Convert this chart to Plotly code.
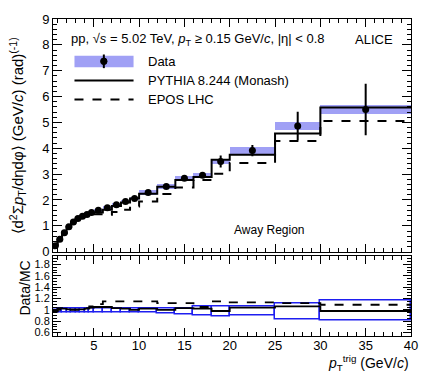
import plotly.graph_objects as go

# ---------------- data ----------------
bin_edges = [0.5, 1, 1.5, 2, 2.5, 3, 3.5, 4, 4.5, 5, 6, 7, 8, 9, 10, 12, 14, 16, 18, 20, 25, 30, 40]
data_vals = [0.23, 0.48, 0.73, 0.96, 1.15, 1.28, 1.37, 1.44, 1.52, 1.60, 1.70, 1.82, 1.94, 2.06,
             2.29, 2.52, 2.84, 2.96, 3.49, 3.91, 4.86, 5.50]
data_stat = [0.02, 0.02, 0.02, 0.02, 0.02, 0.02, 0.02, 0.02, 0.03, 0.03, 0.03, 0.03, 0.04, 0.04,
             0.04, 0.05, 0.07, 0.10, 0.23, 0.22, 0.55, 1.00]
data_sys = [0.02, 0.02, 0.03, 0.03, 0.04, 0.04, 0.04, 0.05, 0.05, 0.05, 0.06, 0.06, 0.07, 0.07,
            0.08, 0.09, 0.09, 0.10, 0.11, 0.14, 0.16, 0.17]
pythia_vals = [0.237, 0.466, 0.716, 0.95, 1.14, 1.27, 1.36, 1.41, 1.46, 1.52, 1.62, 1.77, 1.90, 2.06,
               2.24, 2.51, 2.77, 2.89, 3.56, 3.75, 4.57, 5.58]
epos_vals = [0.235, 0.48, 0.73, 0.96, 1.15, 1.28, 1.36, 1.40, 1.43, 1.45, 1.43, 1.53, 1.62, 1.75,
             1.94, 2.23, 2.48, 2.77, 3.01, 3.43, 4.28, 5.05]
ratio_pythia = [0.97, 1.03, 1.02, 1.01, 1.01, 1.01, 1.01, 1.02, 1.04, 1.05, 1.05, 1.03, 1.02, 1.00,
                1.02, 1.00, 1.03, 1.02, 0.98, 1.04, 1.06, 0.98]
ratio_epos = [0.98, 1.00, 1.00, 1.00, 1.00, 1.00, 1.01, 1.03, 1.06, 1.10, 1.15, 1.15, 1.15, 1.15,
              1.15, 1.12, 1.12, 1.05, 1.15, 1.13, 1.12, 1.09]
box_low = [0.95, 0.95, 0.95, 0.95, 0.95, 0.95, 0.95, 0.95, 0.95, 0.95, 0.95, 0.95, 0.95, 0.95,
           0.95, 0.93, 0.92, 0.90, 0.89, 0.90, 0.84, 0.81]
box_high = [1.02, 1.02, 1.02, 1.02, 1.02, 1.02, 1.02, 1.03, 1.03, 1.03, 1.03, 1.02, 1.02, 1.02,
            1.02, 1.03, 1.03, 1.06, 1.06, 1.06, 1.12, 1.16]

centers = [(a + b) / 2 for a, b in zip(bin_edges[:-1], bin_edges[1:])]
widths = [b - a for a, b in zip(bin_edges[:-1], bin_edges[1:])]

FONT = "Liberation Sans, Arial, sans-serif"
BLUE_FILL = "rgb(160,160,245)"

fig = go.Figure()

# systematic band
fig.add_trace(go.Bar(x=centers, width=widths,
                     base=[v - s for v, s in zip(data_vals, data_sys)],
                     y=[2 * s for s in data_sys],
                     marker=dict(color=BLUE_FILL, line=dict(width=0)),
                     xaxis="x", yaxis="y", showlegend=False))

# MC steps
fig.add_trace(go.Scatter(x=bin_edges, y=pythia_vals + [pythia_vals[-1]], mode="lines",
                         line=dict(color="black", width=2, shape="hv"),
                         xaxis="x", yaxis="y", showlegend=False))
fig.add_trace(go.Scatter(x=bin_edges, y=epos_vals + [epos_vals[-1]], mode="lines",
                         line=dict(color="black", width=2, shape="hv", dash="dash"),
                         xaxis="x", yaxis="y", showlegend=False))

# data points
fig.add_trace(go.Scatter(x=centers, y=data_vals, mode="markers",
                         marker=dict(color="black", size=7),
                         error_y=dict(type="data", array=data_stat, color="black", thickness=2, width=0),
                         xaxis="x", yaxis="y", showlegend=False))

# ratio panel: uncertainty boxes
fig.add_trace(go.Bar(x=centers, width=widths, base=box_low,
                     y=[h - l for h, l in zip(box_high, box_low)],
                     marker=dict(color="rgba(0,0,0,0)", line=dict(color="rgb(30,30,240)", width=1.5)),
                     xaxis="x2", yaxis="y2", showlegend=False))
fig.add_trace(go.Scatter(x=bin_edges, y=ratio_pythia + [ratio_pythia[-1]], mode="lines",
                         line=dict(color="black", width=1.8, shape="hv"),
                         xaxis="x2", yaxis="y2", showlegend=False))
fig.add_trace(go.Scatter(x=bin_edges, y=ratio_epos + [ratio_epos[-1]], mode="lines",
                         line=dict(color="black", width=1.8, shape="hv", dash="dash"),
                         xaxis="x2", yaxis="y2", showlegend=False))

axis_common = dict(showline=True, linecolor="black", linewidth=1, mirror="allticks",
                   ticks="inside", tickcolor="black", showgrid=False, zeroline=False)

fig.update_layout(
    width=431, height=376,
    margin=dict(l=53, r=20, t=15, b=40),
    paper_bgcolor="white", plot_bgcolor="white",
    barmode="overlay", bargap=0,
    font=dict(family=FONT, color="black"),
    xaxis=dict(domain=[0, 1], range=[0.5, 40], anchor="y", showticklabels=False,
               dtick=5, tick0=0, ticklen=8,
               minor=dict(ticks="inside", dtick=1, ticklen=4, tickcolor="black"),
               **axis_common),
    yaxis=dict(domain=[0.266, 1], range=[0, 9], anchor="x", dtick=1, ticklen=9,
               tickfont=dict(family=FONT, size=13, color="black"),
               minor=dict(ticks="inside", dtick=0.2, ticklen=4, tickcolor="black"),
               **axis_common),
    xaxis2=dict(domain=[0, 1], range=[0.5, 40], anchor="y2", showticklabels=True,
                tickvals=[5, 10, 15, 20, 25, 30, 35, 40], ticklen=8,
                tickfont=dict(family=FONT, size=13, color="black"),
                ticklabelstandoff=-3,
                minor=dict(ticks="inside", dtick=1, ticklen=4, tickcolor="black"),
                **axis_common),
    yaxis2=dict(domain=[0, 0.251], range=[0.54, 1.94], anchor="x2",
                tickvals=[0.6, 0.8, 1.0, 1.2, 1.4, 1.6, 1.8],
                ticktext=["0.6", "0.8", "1", "1.2", "1.4", "1.6", "1.8"],
                ticklen=8, tickfont=dict(family=FONT, size=11, color="black"),
                minor=dict(ticks="inside", dtick=0.05, ticklen=4, tickcolor="black"),
                **axis_common),
)

ann = []
ann.append(dict(text="⟨d<sup>2</sup>Σ<i>p</i><sub>T</sub>/dηdφ⟩ (GeV/<i>c</i>) (rad)<sup>(-1)</sup>",
                xref="paper", yref="paper", x=-0.1, xanchor="center", y=0.63, yanchor="middle",
                textangle=-90, showarrow=False, font=dict(family=FONT, size=15)))
ann.append(dict(text="Data/MC", xref="paper", yref="paper", x=-0.078, xanchor="center",
                y=0.15, yanchor="middle", textangle=-90, showarrow=False,
                font=dict(family=FONT, size=14)))
ann.append(dict(text="<i>p</i><sub>T</sub><sup>trig</sup> (GeV/<i>c</i>)", xref="paper", yref="paper",
                x=1.0, xanchor="right", y=-0.086, yanchor="middle", showarrow=False,
                font=dict(family=FONT, size=14)))
ann.append(dict(text="pp, √<i>s</i> = 5.02 TeV, <i>p</i><sub>T</sub> ≥ 0.15 GeV/<i>c</i>, |η| < 0.8",
                xref="paper", yref="paper", x=0.045, xanchor="left", y=0.935, yanchor="middle",
                showarrow=False, font=dict(family=FONT, size=13)))
ann.append(dict(text="ALICE", xref="paper", yref="paper", x=0.955, xanchor="right", y=0.935,
                yanchor="middle", showarrow=False, font=dict(family=FONT, size=13)))
ann.append(dict(text="Data", xref="paper", yref="paper", x=0.26, xanchor="left", y=0.866,
                yanchor="middle", showarrow=False, font=dict(family=FONT, size=13)))
ann.append(dict(text="PYTHIA 8.244 (Monash)", xref="paper", yref="paper", x=0.26, xanchor="left",
                y=0.806, yanchor="middle", showarrow=False, font=dict(family=FONT, size=13)))
ann.append(dict(text="EPOS LHC", xref="paper", yref="paper", x=0.26, xanchor="left", y=0.746,
                yanchor="middle", showarrow=False, font=dict(family=FONT, size=13)))
ann.append(dict(text="Away Region", xref="paper", yref="paper", x=0.5, xanchor="left", y=0.335,
                yanchor="middle", showarrow=False, font=dict(family=FONT, size=12)))
fig.update_layout(annotations=ann)

# legend keys (decorations in paper coordinates)
shapes = []
shapes.append(dict(type="rect", xref="paper", yref="paper", x0=0.06, x1=0.225, y0=0.848, y1=0.884,
                   fillcolor=BLUE_FILL, line=dict(width=0)))
shapes.append(dict(type="line", xref="paper", yref="paper", x0=0.142, x1=0.142, y0=0.845, y1=0.888,
                   line=dict(color="black", width=2)))
shapes.append(dict(type="circle", xref="paper", yref="paper", x0=0.133, x1=0.151, y0=0.856, y1=0.877,
                   fillcolor="black", line=dict(color="black", width=1)))
shapes.append(dict(type="line", xref="paper", yref="paper", x0=0.06, x1=0.225, y0=0.806, y1=0.806,
                   line=dict(color="black", width=2)))
shapes.append(dict(type="line", xref="paper", yref="paper", x0=0.06, x1=0.225, y0=0.746, y1=0.746,
                   line=dict(color="black", width=2, dash="dash")))
fig.update_layout(shapes=shapes)

fig.write_html("out.html", config={"displayModeBar": False},
               post_script="document.body.style.margin='0px';document.body.style.padding='0px';")
